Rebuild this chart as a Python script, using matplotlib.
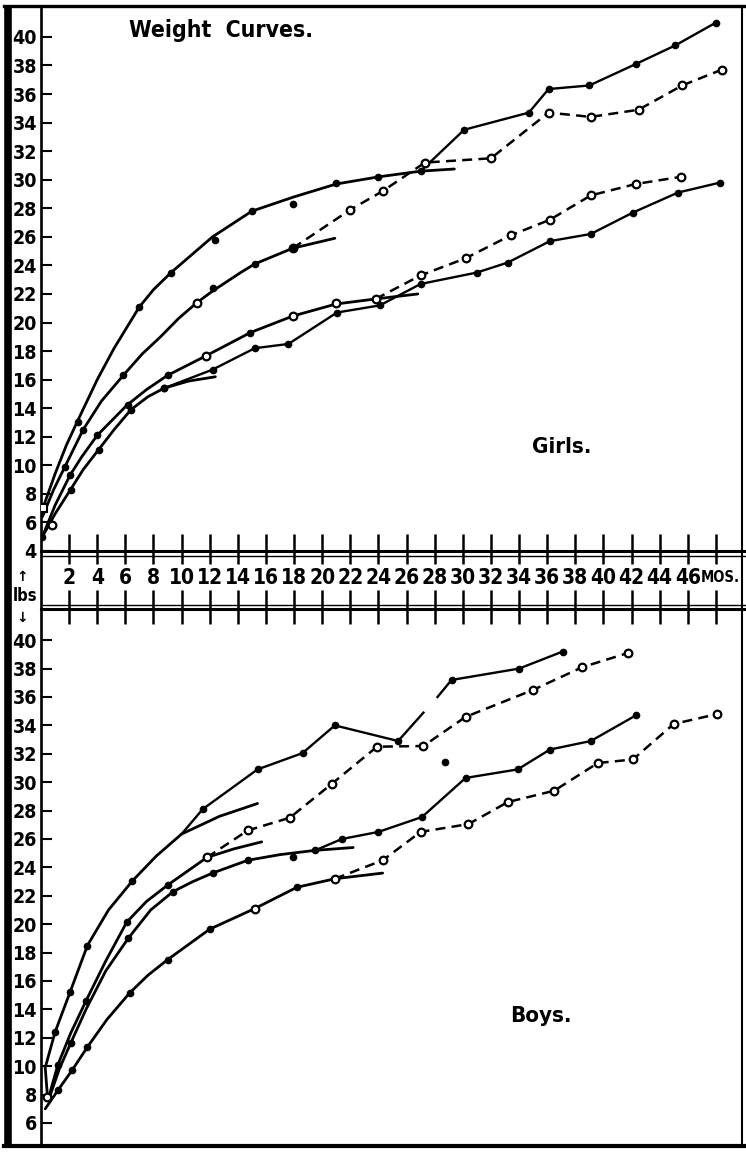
import matplotlib
matplotlib.use('Agg')
import matplotlib.pyplot as plt
from matplotlib import font_manager as fm

W, H = 746, 1154

# ---- Girls: smooth curves (months, lbs) ----
girls_a_m = [0.1, 1.0, 1.8, 2.6, 4.0, 5.2, 7.0, 8.0, 9.25, 12.2, 15.0, 18.0, 21.0, 24.0, 27.0, 29.4]
girls_a_w = [6.9, 9.4, 11.4, 13.1, 16.0, 18.2, 21.1, 22.3, 23.5, 26.0, 27.8, 28.8, 29.7, 30.2, 30.6, 30.75]
girls_b_m = [0.1, 0.9, 1.7, 3.0, 4.3, 5.85, 7.2, 8.5, 9.8, 11.1, 12.2, 14.2, 15.2, 17.9, 20.9]
girls_b_w = [6.4, 8.3, 9.9, 12.5, 14.5, 16.3, 17.8, 19.0, 20.3, 21.4, 22.2, 23.5, 24.1, 25.2, 25.9]
girls_c_m = [0.1, 1.0, 2.06, 2.9, 4.0, 6.1, 7.5, 9.0, 11.7, 14.9, 17.9, 21.0, 23.8, 26.8]
girls_c_w = [5.0, 7.2, 9.3, 10.6, 12.1, 14.2, 15.3, 16.3, 17.65, 19.3, 20.45, 21.3, 21.65, 22.0]
girls_d_m = [0.1, 1.0, 2.1, 3.0, 4.1, 5.2, 6.4, 7.6, 8.75, 10.5, 12.4]
girls_d_w = [5.0, 6.6, 8.3, 9.7, 11.1, 12.5, 13.9, 14.8, 15.4, 15.9, 16.2]

# Girls: observed dots on the smooth curves
girls_dot_m = [2.6, 7.0, 9.25, 12.4, 15.0, 21.0, 24.0, 17.9,
               1.7, 3.0, 5.85, 12.2, 15.2, 17.9,
               2.06, 4.0, 6.2, 9.0, 14.9,
               2.1, 4.1, 6.4, 8.75, 0.1]
girls_dot_w = [13.0, 21.1, 23.5, 25.8, 27.8, 29.8, 30.2, 28.3,
               9.9, 12.5, 16.3, 22.4, 24.1, 25.2,
               9.3, 12.1, 14.2, 16.3, 19.3,
               8.3, 11.1, 13.9, 15.4, 5.0]
girls_ring_m = [11.1, 11.7, 17.9, 21.0, 0.8]
girls_ring_w = [21.4, 17.65, 20.45, 21.4, 5.8]

# Girls: broken lines
girls_p1_m = [27.0, 30.1, 34.7, 36.1, 39.0, 42.3, 45.1, 48.0]
girls_p1_w = [30.6, 33.5, 34.7, 36.35, 36.6, 38.1, 39.4, 41.0]
girls_p2_m = [17.9, 22.0, 24.3, 27.3, 32.0, 36.1, 39.1, 42.5, 45.6, 48.4]
girls_p2_w = [25.2, 27.9, 29.2, 31.2, 31.5, 34.7, 34.4, 34.9, 36.6, 37.7]
girls_p3_m = [23.8, 27.0, 30.2, 33.4, 36.2, 39.1, 42.3, 45.5]
girls_p3_w = [21.65, 23.3, 24.5, 26.1, 27.2, 28.9, 29.7, 30.2]
girls_p4_m = [8.75, 12.2, 15.2, 17.6, 21.05, 24.1, 27.0, 31.0, 33.2, 36.2, 39.1, 42.1, 45.3, 48.3]
girls_p4_w = [15.4, 16.7, 18.2, 18.5, 20.7, 21.2, 22.7, 23.5, 24.2, 25.7, 26.2, 27.7, 29.1, 29.8]

# ---- Boys: smooth curves ----
boys_e_m = [0.45, 0.3, 1.0, 2.06, 3.3, 4.8, 6.5, 8.2, 10.0, 12.7, 15.4]
boys_e_w = [8.0, 9.9, 12.4, 15.2, 18.5, 21.0, 23.05, 24.8, 26.35, 27.6, 28.5]
boys_f_m = [0.6, 1.2, 2.1, 3.2, 4.6, 6.1, 7.5, 9.0, 11.8, 13.7, 15.7]
boys_f_w = [8.0, 10.1, 12.3, 14.6, 17.4, 20.15, 21.6, 22.75, 24.7, 25.3, 25.8]
boys_g_m = [0.6, 1.3, 2.1, 3.2, 4.6, 6.2, 7.8, 9.4, 10.8, 12.2, 14.7, 17.0, 19.5, 22.2]
boys_g_w = [7.8, 9.8, 11.6, 14.0, 16.7, 19.0, 21.0, 22.3, 23.0, 23.6, 24.5, 24.9, 25.2, 25.4]
boys_h_m = [0.3, 1.2, 2.2, 3.3, 4.7, 6.3, 7.6, 9.0, 12.0, 15.2, 18.2, 20.9, 24.3]
boys_h_w = [7.0, 8.3, 9.7, 11.35, 13.3, 15.15, 16.4, 17.5, 19.65, 21.1, 22.6, 23.2, 23.6]

boys_dot_m = [1.0, 2.06, 3.3, 6.5,
              1.2, 3.2, 6.1, 9.0,
              2.1, 6.2, 9.4, 12.2, 14.7,
              1.2, 2.2, 3.3, 6.3, 9.0, 12.0, 18.2,
              17.9, 28.7]
boys_dot_w = [12.4, 15.2, 18.5, 23.05,
              10.1, 14.6, 20.15, 22.75,
              11.6, 19.0, 22.3, 23.6, 24.5,
              8.3, 9.7, 11.35, 15.15, 17.5, 19.65, 22.6,
              24.7, 31.4]
boys_ring_m = [15.2, 0.4]
boys_ring_w = [21.1, 7.8]

# top boys line is drawn in two pieces (the pen skips between them)
boys_q1a_m = [10.0, 11.5, 15.4, 18.6, 20.9, 25.4, 27.2]
boys_q1a_w = [26.35, 28.1, 30.9, 32.05, 34.0, 32.9, 34.9]
boys_q1b_m = [28.2, 29.2, 34.0, 37.1]
boys_q1b_w = [36.0, 37.2, 38.0, 39.2]
boys_q1_dot_m = [11.5, 15.4, 18.6, 20.9, 25.4, 29.2, 34.0, 37.1]
boys_q1_dot_w = [28.1, 30.9, 32.05, 34.0, 32.9, 37.2, 38.0, 39.2]
boys_q2_m = [11.8, 14.7, 17.7, 20.7, 23.9, 27.2, 30.2, 35.0, 38.5, 41.75]
boys_q2_w = [24.7, 26.6, 27.5, 29.9, 32.5, 32.55, 34.6, 36.5, 38.1, 39.1]
boys_q3_m = [19.5, 21.4, 24.0, 27.1, 30.2, 33.9, 36.2, 39.1, 42.3]
boys_q3_w = [25.2, 26.0, 26.5, 27.55, 30.3, 30.9, 32.3, 32.9, 34.7]
boys_q4_m = [20.9, 24.3, 27.0, 30.4, 33.2, 36.5, 39.6, 42.1, 45.0, 48.1]
boys_q4_w = [23.2, 24.5, 26.5, 27.05, 28.6, 29.4, 31.35, 31.6, 34.1, 34.8]

month_ticks = list(range(2, 49, 2))
month_labels = [str(m) for m in range(2, 47, 2)] + ['MOS.']
girls_yticks = list(range(4, 41, 2))
boys_yticks = list(range(6, 41, 2))


def pick_font(size):
    # a narrow bold face looks closest to the hand lettering
    wanted = ['liberationsansnarrow-bold.', 'dejavusanscondensed-bold.',
              'notosans-condensedbold.', 'robotocondensed-bold.', 'opensans-condensedbold.']
    files = [f.fname for f in fm.fontManager.ttflist]
    for w in wanted:
        for fn in files:
            if fn.lower().replace('_', '').split('/')[-1].startswith(w):
                return fm.FontProperties(fname=fn, size=size)
    return fm.FontProperties(family='Liberation Sans', weight='bold', size=size * 0.85)


fig = plt.figure(figsize=(W / 100, H / 100), dpi=100)


def px_axes(left, top, right, bottom, **kw):
    return fig.add_axes([left / W, 1 - bottom / H, (right - left) / W, (bottom - top) / H], **kw)


# background layer in pixel coordinates for the frame
bg = fig.add_axes([0, 0, 1, 1], zorder=-1)
bg.set_xlim(0, W)
bg.set_ylim(H, 0)
bg.axis('off')
k = 'black'
bg.plot([7.5, 7.5], [5, 1148], color=k, lw=5.5, solid_capstyle='butt')
bg.plot([4, 745], [6, 6], color=k, lw=2.4)
bg.plot([742, 742], [6, 1147], color=k, lw=1.5)
bg.plot([4, 745], [1146, 1146], color=k, lw=3)
bg.plot([41, 41], [6, 1146], color=k, lw=1.9)
bg.plot([41, 746], [550.5, 550.5], color=k, lw=2.2)
bg.plot([41, 746], [555.5, 555.5], color=k, lw=1.0)
bg.plot([41, 746], [604.5, 604.5], color=k, lw=1.0)
bg.plot([41, 746], [608.5, 608.5], color=k, lw=2.2)
bg.text(25, 596, 'lbs', ha='center', va='center', fontproperties=pick_font(12))
bg.text(22, 577, '\u2191', ha='center', va='center', fontsize=10, fontweight='bold')
bg.text(22, 618, '\u2193', ha='center', va='center', fontsize=10, fontweight='bold')

xmax = (740 - 41) / 14.06
top = px_axes(41, 10, 740, 551)
top.set_xlim(0, xmax)
top.set_ylim(4, 4 + 541 / 14.28)
bot = px_axes(41, 607, 740, 1143, sharex=top)
bot.set_ylim(6 - 20 / 14.2, 6 + 516 / 14.2)
band = px_axes(41, 530, 740, 626, sharex=top)
band.set_ylim(626, 530)
band.axis('off')

ytick_font = pick_font(14)
for ax, ticks in ((top, girls_yticks), (bot, boys_yticks)):
    ax.patch.set_alpha(0)
    for s in ax.spines.values():
        s.set_visible(False)
    ax.set_yticks(ticks)
    ax.set_yticklabels([str(t) for t in ticks], fontproperties=ytick_font)
    ax.tick_params(axis='y', direction='in', length=8, width=1.5, pad=3)
    ax.tick_params(axis='x', bottom=False, labelbottom=False)

band.vlines(month_ticks, 534, 564, color=k, lw=1.8)
band.vlines(month_ticks, 590, 624, color=k, lw=1.8)
xtick_font = pick_font(15)
mos_font = pick_font(10.5)
for m, lab in zip(month_ticks, month_labels):
    if lab == 'MOS.':
        band.text(m + 0.3, 578, lab, ha='center', va='center', fontproperties=mos_font)
    else:
        band.text(m, 578, lab, ha='center', va='center', fontproperties=xtick_font)

curve = dict(color=k, lw=2.0, solid_capstyle='round')
solid = dict(color=k, lw=1.7, marker='o', ms=4.5)
dashed = dict(color=k, lw=1.8, ls=(0, (4, 2.5)), marker='o', ms=5.5, mfc='white', mew=1.6)
dot = dict(color=k, ls='none', marker='o', ms=4.5)
ring = dict(color=k, ls='none', marker='o', ms=5.5, mfc='white', mew=1.6)

# Girls
for mm, ww in ((girls_a_m, girls_a_w), (girls_b_m, girls_b_w),
               (girls_c_m, girls_c_w), (girls_d_m, girls_d_w)):
    top.plot(mm, ww, **curve)
top.plot(girls_p1_m, girls_p1_w, **solid)
top.plot(girls_p4_m, girls_p4_w, **solid)
top.plot(girls_p2_m, girls_p2_w, **dashed)
top.plot(girls_p3_m, girls_p3_w, **dashed)
top.plot(girls_dot_m, girls_dot_w, **dot)
top.plot(girls_ring_m, girls_ring_w, **ring)
top.plot([0.15], [7.0], color=k, ls='none', marker='s', ms=6, mfc='white', mew=1.5)

# Boys
for mm, ww in ((boys_e_m, boys_e_w), (boys_f_m, boys_f_w),
               (boys_g_m, boys_g_w), (boys_h_m, boys_h_w)):
    bot.plot(mm, ww, **curve)
bot.plot(boys_q1a_m, boys_q1a_w, color=k, lw=1.7)
bot.plot(boys_q1b_m, boys_q1b_w, color=k, lw=1.7)
bot.plot(boys_q1_dot_m, boys_q1_dot_w, **dot)
bot.plot(boys_q3_m, boys_q3_w, **solid)
bot.plot(boys_q2_m, boys_q2_w, **dashed)
bot.plot(boys_q4_m, boys_q4_w, **dashed)
bot.plot(boys_dot_m, boys_dot_w, **dot)
bot.plot(boys_ring_m, boys_ring_w, **ring)

top.text(0.2575, 0.963, 'Weight  Curves.', transform=top.transAxes, ha='center', va='center',
         fontproperties=pick_font(16.5))
top.text(0.745, 0.192, 'Girls.', transform=top.transAxes, ha='center', va='center',
         fontproperties=pick_font(16))
bot.text(0.715, 0.237, 'Boys.', transform=bot.transAxes, ha='center', va='center',
         fontproperties=pick_font(16))

fig.savefig('out.png', dpi=100)
